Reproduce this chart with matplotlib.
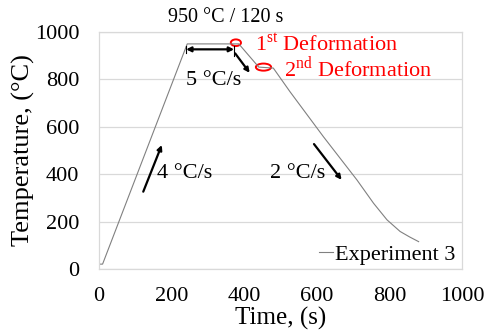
import matplotlib
matplotlib.use("Agg")
import matplotlib.pyplot as plt
from matplotlib.patches import Ellipse

# Experiment 3 thermal cycle
time_s = [0, 10, 243, 385, 440, 480, 526, 618, 710, 756, 793, 829, 855, 880]
temp_c = [20, 20, 950, 950, 852, 848, 748, 558, 376, 277, 207, 158, 135, 115]

x_ticks = [0, 200, 400, 600, 800, 1000]
y_ticks = [0, 200, 400, 600, 800, 1000]

plt.rcParams['font.family'] = ['Liberation Serif', 'DejaVu Serif']
plt.rcParams['mathtext.fontset'] = 'custom'
plt.rcParams['mathtext.rm'] = 'Liberation Serif'

grid_col = '#d9d9d9'

fig = plt.figure(figsize=(4.85, 3.34), dpi=100)
ax = fig.add_axes([0.204, 0.195, 0.749, 0.709])

ax.plot(time_s, temp_c, color='#808080', lw=0.8, label='Experiment 3')

ax.set_xlim(0, 1000)
ax.set_ylim(0, 1000)
ax.set_xticks(x_ticks)
ax.set_yticks(y_ticks)
ax.tick_params(length=0, labelsize=16)
ax.tick_params(axis='y', pad=14)
ax.tick_params(axis='x', pad=13)
ax.yaxis.grid(True, color=grid_col, lw=0.9)
ax.set_axisbelow(True)
for s in ax.spines.values():
    s.set_color(grid_col)
    s.set_linewidth(0.9)

ax.set_xlabel('Time, (s)', fontsize=18, labelpad=1)
ax.set_ylabel('Temperature, (°C)', fontsize=19, labelpad=0)

# annotations
arr = dict(arrowstyle='-|>', color='k', lw=1.6, mutation_scale=7, shrinkA=0, shrinkB=0)
ax.annotate('', xy=(173, 523), xytext=(122, 326), arrowprops=arr)
ax.annotate('', xy=(668, 376), xytext=(592, 527), arrowprops=arr)
ax.annotate('', xy=(415, 828), xytext=(375, 910), arrowprops=arr)
ax.annotate('', xy=(240, 927), xytext=(372, 927),
            arrowprops=dict(arrowstyle='<|-|>', color='k', lw=1.6, mutation_scale=7,
                            shrinkA=0, shrinkB=0))
ax.plot([240, 240], [942, 912], color='k', lw=0.8)
ax.plot([372, 372], [942, 900], color='k', lw=0.8)

ax.text(160, 404, '4 °C/s', fontsize=16, va='center', ha='left')
ax.text(471, 404, '2 °C/s', fontsize=16, va='center', ha='left')
ax.text(315, 795, '5 °C/s', fontsize=16, va='center', ha='center')
ax.text(350, 1063, '950 °C / 120 s', fontsize=14.5, va='center', ha='center', clip_on=False)

ax.add_patch(Ellipse((377, 955), 28, 28, fill=False, ec='red', lw=1.4))
ax.add_patch(Ellipse((453, 852), 42, 30, fill=False, ec='red', lw=1.4))
ax.text(430, 948, r'1$^{\mathrm{st}}$ Deformation', fontsize=16, color='red',
        va='center', ha='left')
ax.text(510, 848, r'2$^{\mathrm{nd}}$ Deformation', fontsize=16, color='red',
        va='center', ha='left', clip_on=False)

ax.legend(loc='lower right', frameon=False, fontsize=16, handlelength=0.6,
          handletextpad=0.1, borderaxespad=0.0, bbox_to_anchor=(1.005, -0.02))

fig.savefig('out.png', dpi=100)
